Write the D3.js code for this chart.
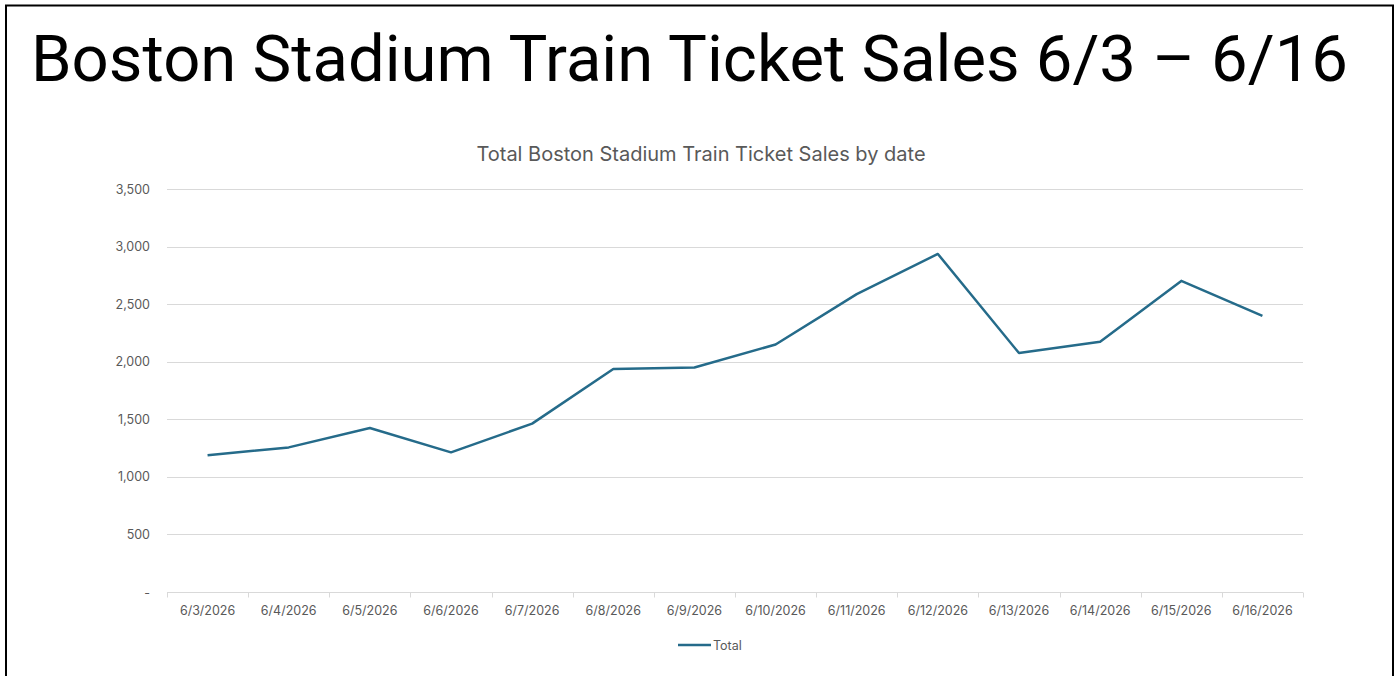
<!DOCTYPE html>
<html>
<head>
<meta charset="utf-8">
<script src="https://cdn.jsdelivr.net/npm/d3@7"></script>
<style>
  html, body { margin: 0; padding: 0; background: #fff; }
  svg { display: block; }
</style>
</head>
<body>
<svg id="chart"></svg>
<script>
var width = 1400,
    height = 676;

// data
var dates = ['6/3/2026','6/4/2026','6/5/2026','6/6/2026','6/7/2026','6/8/2026','6/9/2026',
             '6/10/2026','6/11/2026','6/12/2026','6/13/2026','6/14/2026','6/15/2026','6/16/2026'];
var totals = [1187, 1256, 1424, 1213, 1462, 1936, 1950, 2149, 2587, 2936, 2075, 2173, 2702, 2398];
var yTicks = [0, 500, 1000, 1500, 2000, 2500, 3000, 3500];
var seriesName = 'Total';
var pageTitle = 'Boston Stadium Train Ticket Sales 6/3 \u2013 6/16';
var chartTitle = 'Total Boston Stadium Train Ticket Sales by date';

var margin = {left: 167, right: 97, top: 189, bottom: 84},
    lineColor = '#256b8a',
    textGray = '#595959',
    gridColor = '#d9d9d9';

var svg = d3.select('#chart')
  .attr('width', width)
  .attr('height', height);

// slide frame
svg.append('path')
  .attr('d', 'M6,677 L6,5.5 L1393,5.5 L1393,677')
  .attr('fill', 'none')
  .attr('stroke', '#000')
  .attr('stroke-width', 2);

// big slide title, sized to the measured span
var bigTitle = svg.append('text')
  .attr('x', 31)
  .attr('y', 81)
  .attr('font-family', 'Roboto, Liberation Sans, sans-serif')
  .attr('font-size', 66)
  .attr('fill', '#000')
  .text(pageTitle);
var w = bigTitle.node().getComputedTextLength();
bigTitle.attr('font-size', 66 * (1317 / w));

svg.append('text')
  .attr('x', 701)
  .attr('y', 161)
  .attr('text-anchor', 'middle')
  .attr('font-family', 'Inter, Noto Sans, sans-serif')
  .attr('font-size', 20)
  .attr('fill', textGray)
  .text(chartTitle);

var x = d3.scaleBand()
  .domain(dates)
  .range([margin.left, width - margin.right])
  .padding(0);

var y = d3.scaleLinear()
  .domain([0, 3500])
  .range([height - margin.bottom, margin.top]);

// gridlines
svg.append('g')
  .selectAll('line')
  .data(yTicks.filter(function(d) { return d > 0; }))
  .enter().append('line')
  .attr('x1', margin.left)
  .attr('x2', width - margin.right)
  .attr('y1', function(d) { return Math.round(y(d)) + 0.5; })
  .attr('y2', function(d) { return Math.round(y(d)) + 0.5; })
  .attr('stroke', gridColor)
  .attr('stroke-width', 1);

// y labels
svg.append('g')
  .selectAll('text')
  .data(yTicks)
  .enter().append('text')
  .attr('x', 150)
  .attr('y', function(d) { return y(d) + 4.5; })
  .attr('text-anchor', 'end')
  .attr('font-family', 'Inter, Noto Sans, sans-serif')
  .attr('font-size', 12.5)
  .attr('fill', textGray)
  .text(function(d) { return d === 0 ? '-' : d3.format(',')(d); });

// x axis with ticks on category boundaries
var xAxis = svg.append('g')
  .attr('transform', 'translate(0,' + (Math.round(y(0)) + 0.5) + ')');
xAxis.append('line')
  .attr('x1', margin.left)
  .attr('x2', width - margin.right)
  .attr('stroke', gridColor);
xAxis.selectAll('.tick')
  .data(dates.concat(['end']))
  .enter().append('line')
  .attr('x1', function(d, i) { return Math.round(margin.left + i * x.bandwidth()) + 0.5; })
  .attr('x2', function(d, i) { return Math.round(margin.left + i * x.bandwidth()) + 0.5; })
  .attr('y1', 0)
  .attr('y2', 5)
  .attr('stroke', gridColor);
xAxis.selectAll('text')
  .data(dates)
  .enter().append('text')
  .attr('x', function(d) { return x(d) + x.bandwidth() / 2; })
  .attr('y', 22)
  .attr('text-anchor', 'middle')
  .attr('font-family', 'Inter, Noto Sans, sans-serif')
  .attr('font-size', 12.5)
  .attr('fill', textGray)
  .text(function(d) { return d; });

// the series
var line = d3.line()
  .x(function(d, i) { return x(dates[i]) + x.bandwidth() / 2; })
  .y(function(d) { return y(d); });

svg.append('path')
  .datum(totals)
  .attr('d', line)
  .attr('fill', 'none')
  .attr('stroke', lineColor)
  .attr('stroke-width', 2.5)
  .attr('stroke-linejoin', 'round');

// legend
var legend = svg.append('g').attr('transform', 'translate(678,645)');
legend.append('line')
  .attr('x1', 0).attr('x2', 33)
  .attr('stroke', lineColor)
  .attr('stroke-width', 2.5);
legend.append('text')
  .attr('x', 35)
  .attr('y', 4.5)
  .attr('font-family', 'Inter, Noto Sans, sans-serif')
  .attr('font-size', 12.5)
  .attr('fill', textGray)
  .text(seriesName);
</script>
</body>
</html>
